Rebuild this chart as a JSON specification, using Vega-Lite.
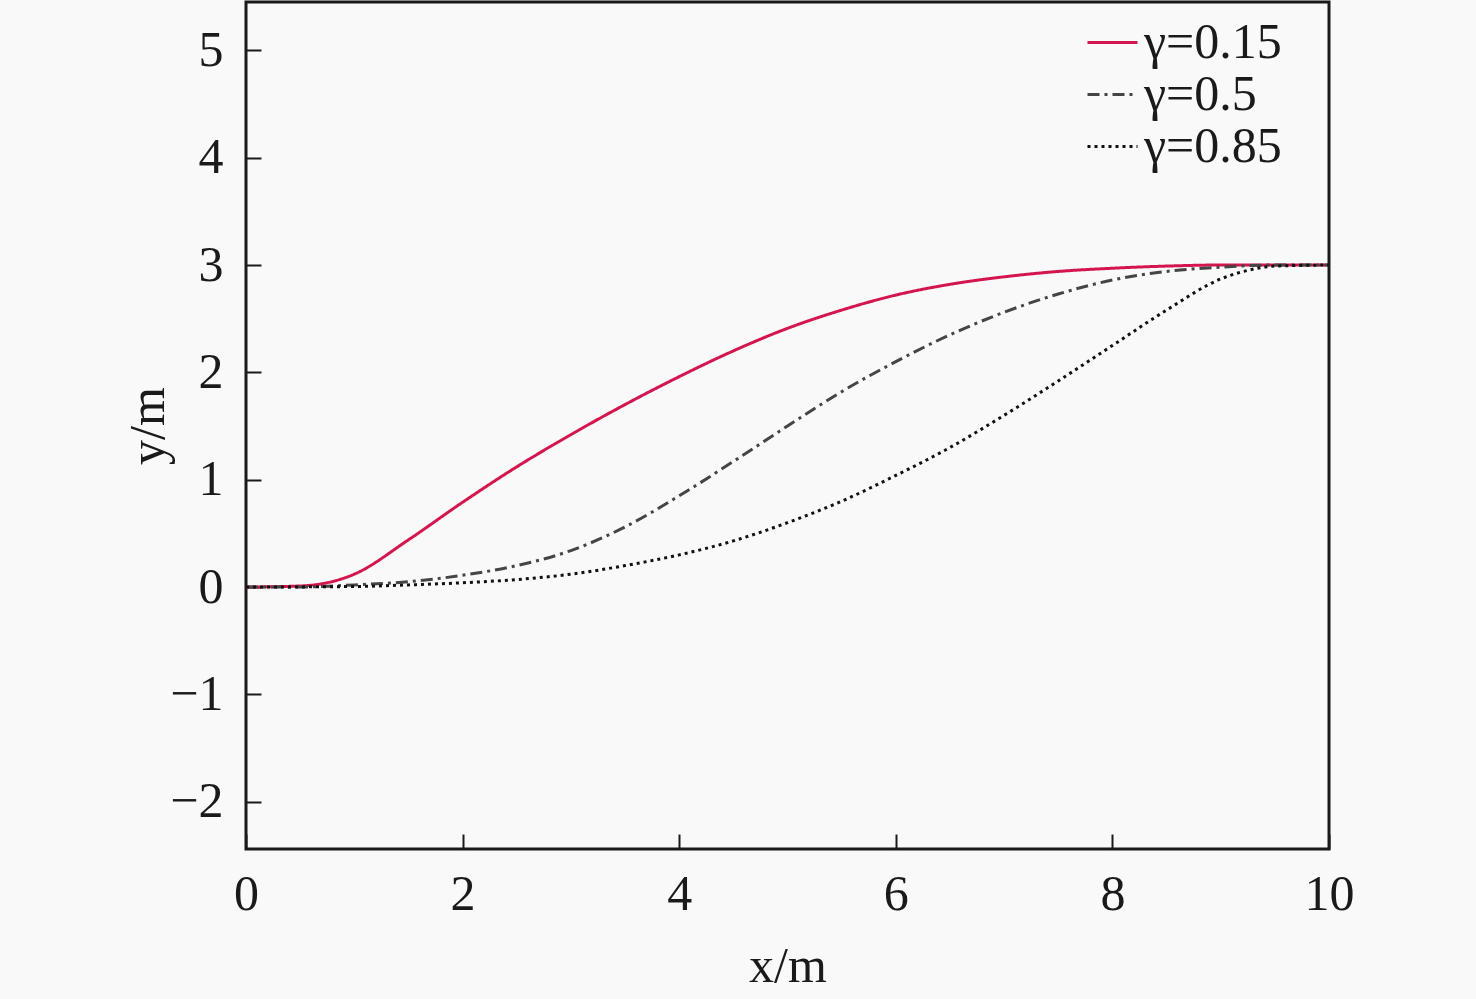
{
  "$schema": "https://vega.github.io/schema/vega-lite/v6.json",
  "width": 1083,
  "height": 847,
  "autosize": "none",
  "padding": {"left": 246, "top": 2, "right": 147, "bottom": 150},
  "background": "#f9f9f9",
  "config": {
    "font": "Liberation Serif",
    "view": {"stroke": "#1a1a1a", "strokeWidth": 3},
    "axis": {
      "grid": false,
      "domain": false,
      "tickColor": "#1a1a1a",
      "tickWidth": 2,
      "tickSize": -15,
      "labelFont": "Liberation Serif",
      "labelFontSize": 50,
      "labelColor": "#1a1a1a",
      "labelFlush": false,
      "titleFont": "Liberation Serif",
      "titleFontSize": 50,
      "titleFontWeight": "normal",
      "titleColor": "#1a1a1a"
    }
  },
  "data": {
    "values": [
      {"series": "γ=0.15", "x": 0, "y": 0},
      {"series": "γ=0.15", "x": 0.5, "y": 0.01},
      {"series": "γ=0.15", "x": 1, "y": 0.12},
      {"series": "γ=0.15", "x": 1.5, "y": 0.44},
      {"series": "γ=0.15", "x": 2, "y": 0.79},
      {"series": "γ=0.15", "x": 2.5, "y": 1.12},
      {"series": "γ=0.15", "x": 3, "y": 1.42},
      {"series": "γ=0.15", "x": 3.5, "y": 1.7},
      {"series": "γ=0.15", "x": 4, "y": 1.96},
      {"series": "γ=0.15", "x": 4.5, "y": 2.2},
      {"series": "γ=0.15", "x": 5, "y": 2.41},
      {"series": "γ=0.15", "x": 5.5, "y": 2.58},
      {"series": "γ=0.15", "x": 6, "y": 2.72},
      {"series": "γ=0.15", "x": 6.5, "y": 2.82},
      {"series": "γ=0.15", "x": 7, "y": 2.89},
      {"series": "γ=0.15", "x": 7.5, "y": 2.94},
      {"series": "γ=0.15", "x": 8, "y": 2.97},
      {"series": "γ=0.15", "x": 8.5, "y": 2.99},
      {"series": "γ=0.15", "x": 9, "y": 3.0},
      {"series": "γ=0.15", "x": 9.5, "y": 3.0},
      {"series": "γ=0.15", "x": 10, "y": 3.0},
      {"series": "γ=0.5", "x": 0, "y": 0},
      {"series": "γ=0.5", "x": 0.5, "y": 0.0},
      {"series": "γ=0.5", "x": 1, "y": 0.02},
      {"series": "γ=0.5", "x": 1.5, "y": 0.05},
      {"series": "γ=0.5", "x": 2, "y": 0.11},
      {"series": "γ=0.5", "x": 2.5, "y": 0.2},
      {"series": "γ=0.5", "x": 3, "y": 0.34},
      {"series": "γ=0.5", "x": 3.5, "y": 0.56},
      {"series": "γ=0.5", "x": 4, "y": 0.85},
      {"series": "γ=0.5", "x": 4.5, "y": 1.17},
      {"series": "γ=0.5", "x": 5, "y": 1.5},
      {"series": "γ=0.5", "x": 5.5, "y": 1.82},
      {"series": "γ=0.5", "x": 6, "y": 2.1},
      {"series": "γ=0.5", "x": 6.5, "y": 2.35},
      {"series": "γ=0.5", "x": 7, "y": 2.56},
      {"series": "γ=0.5", "x": 7.5, "y": 2.73},
      {"series": "γ=0.5", "x": 8, "y": 2.86},
      {"series": "γ=0.5", "x": 8.5, "y": 2.94},
      {"series": "γ=0.5", "x": 9, "y": 2.98},
      {"series": "γ=0.5", "x": 9.5, "y": 3.0},
      {"series": "γ=0.5", "x": 10, "y": 3.0},
      {"series": "γ=0.85", "x": 0, "y": 0},
      {"series": "γ=0.85", "x": 1, "y": 0.005},
      {"series": "γ=0.85", "x": 1.5, "y": 0.02},
      {"series": "γ=0.85", "x": 2, "y": 0.04},
      {"series": "γ=0.85", "x": 2.5, "y": 0.07},
      {"series": "γ=0.85", "x": 3, "y": 0.12},
      {"series": "γ=0.85", "x": 3.5, "y": 0.2},
      {"series": "γ=0.85", "x": 4, "y": 0.3},
      {"series": "γ=0.85", "x": 4.5, "y": 0.43},
      {"series": "γ=0.85", "x": 5, "y": 0.6},
      {"series": "γ=0.85", "x": 5.5, "y": 0.8},
      {"series": "γ=0.85", "x": 6, "y": 1.04},
      {"series": "γ=0.85", "x": 6.5, "y": 1.3},
      {"series": "γ=0.85", "x": 7, "y": 1.6},
      {"series": "γ=0.85", "x": 7.5, "y": 1.92},
      {"series": "γ=0.85", "x": 8, "y": 2.25},
      {"series": "γ=0.85", "x": 8.5, "y": 2.58},
      {"series": "γ=0.85", "x": 9, "y": 2.87},
      {"series": "γ=0.85", "x": 9.25, "y": 2.95},
      {"series": "γ=0.85", "x": 9.5, "y": 2.99},
      {"series": "γ=0.85", "x": 10, "y": 3.0}
    ]
  },
  "mark": {"type": "line", "strokeWidth": 3, "interpolate": "monotone", "clip": true},
  "encoding": {
    "x": {
      "field": "x", "type": "quantitative",
      "scale": {"domain": [0, 10], "nice": false},
      "axis": {"values": [0, 2, 4, 6, 8, 10], "title": "x/m", "labelPadding": 35, "titlePadding": 22}
    },
    "y": {
      "field": "y", "type": "quantitative",
      "scale": {"domain": [-2.44, 5.45], "nice": false, "zero": false},
      "axis": {"values": [-2, -1, 0, 1, 2, 3, 4, 5], "title": "y/m", "labelPadding": 38, "titlePadding": -4}
    },
    "color": {
      "field": "series", "type": "nominal",
      "scale": {"domain": ["γ=0.15", "γ=0.5", "γ=0.85"], "range": ["#d4164e", "#454545", "#111111"]},
      "legend": {
        "title": null,
        "orient": "none",
        "legendX": 840,
        "legendY": 14,
        "symbolType": "stroke",
        "symbolSize": 2500,
        "symbolStrokeWidth": 3,
        "labelFont": "Liberation Serif",
        "labelFontSize": 50,
        "labelColor": "#1a1a1a",
        "rowPadding": 0,
        "labelOffset": 5
      }
    },
    "strokeDash": {
      "field": "series", "type": "nominal",
      "scale": {"domain": ["γ=0.15", "γ=0.5", "γ=0.85"], "range": [[1, 0], [12, 5, 3, 5], [3, 4]]},
      "legend": null
    }
  }
}
